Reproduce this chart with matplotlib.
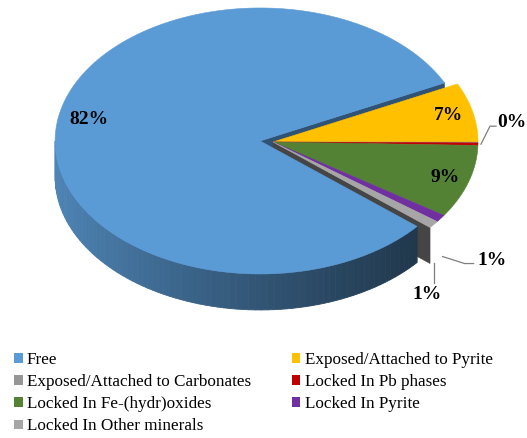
import numpy as np
import matplotlib.pyplot as plt
from matplotlib.patches import Polygon, Patch

plt.rcParams['font.family'] = ['Liberation Serif', 'DejaVu Serif']

# mineral association shares (%)
categories = ['Free', 'Exposed/Attached to Pyrite', 'Exposed/Attached to Carbonates',
              'Locked In Pb phases', 'Locked In Fe-(hydr)oxides', 'Locked In Pyrite',
              'Locked In Other minerals']
shares = [81.7, 7.2, 0.1, 0.3, 8.9, 0.9, 0.9]
colors = ['#5B9BD5', '#FFC000', '#969696', '#C00000', '#548235', '#7030A0', '#A6A6A6']

# pie geometry in pixel units
cx, cy = 273, 142
rx, ry = 205, 133
depth = 36
start = -40.0
explode = 13

fig = plt.figure(figsize=(5.27, 4.38), dpi=100)
ax = fig.add_axes([0, 0, 1, 1])
ax.set_xlim(0, 527)
ax.set_ylim(438, 0)
ax.axis('off')

vals = np.array(shares)
ends = start - np.cumsum(vals) * 3.6
begins = np.concatenate([[start], ends[:-1]])


def rim(ox, oy, t, dz=0.0):
    t = np.radians(t)
    return ox + rx * np.cos(t), oy - ry * np.sin(t) + dz


def shade(c, f):
    c = np.array(plt.matplotlib.colors.to_rgb(c))
    return tuple(c * f)


def wedge_top(i, ox, oy):
    ts = np.linspace(begins[i], ends[i], 200)
    xs, ys = rim(ox, oy, ts)
    pts = np.column_stack([np.r_[ox, xs], np.r_[oy, ys]])
    ax.add_patch(Polygon(pts, closed=True, fc=colors[i], ec=colors[i], lw=0.4))


def wedge_side(i, ox, oy, fshade):
    # visible front part of the outer wall: sin(t) < 0
    hi, lo = begins[i], ends[i]
    t0, t1 = max(lo, -180), min(hi, 0)
    if t1 <= t0:
        return
    ts = np.linspace(t1, t0, 80)
    for a, b in zip(ts[:-1], ts[1:]):
        x1, y1 = rim(ox, oy, a)
        x2, y2 = rim(ox, oy, b)
        pts = [(x1, y1), (x2, y2), (x2, y2 + depth), (x1, y1 + depth)]
        c = shade(colors[i], fshade(x1))
        ax.add_patch(Polygon(pts, closed=True, fc=c, ec=c, lw=0.6))


def cut_face(ox, oy, t, c):
    x, y = rim(ox, oy, t)
    pts = [(ox, oy), (x, y), (x, y + depth), (ox, oy + depth)]
    ax.add_patch(Polygon(pts, closed=True, fc=c, ec=c, lw=0.4))


# Free slice pulled out along its bisector
mid0 = np.radians((begins[0] + ends[0]) / 2)
fx = cx + explode * np.cos(mid0)
fy = cy - explode * np.sin(mid0) * ry / rx

cut_face(fx, fy, ends[0], '#2F5275')
cut_face(cx, cy, ends[-1], '#454545')

xl, xr = fx - rx, rim(fx, fy, begins[0])[0]
wedge_side(0, fx, fy, lambda x: 0.86 - 0.5 * ((x - xl) / (xr - xl)) ** 0.85)
wedge_top(0, fx, fy)

for i in range(1, len(vals)):
    wedge_side(i, cx, cy, lambda x: 0.42)
for i in range(1, len(vals)):
    wedge_top(i, cx, cy)

labels = ['%.0f%%' % v for v in vals]
lab_kw = dict(fontsize=14, fontweight='bold', color='black')

# labels inside the top face
for i, r, dy in [(0, 0.84, -8), (1, 0.88, 0), (4, 0.88, 0)]:
    ox, oy = (fx, fy) if i == 0 else (cx, cy)
    m = (begins[i] + ends[i]) / 2
    x = ox + r * rx * np.cos(np.radians(m))
    y = oy - r * ry * np.sin(np.radians(m)) + dy
    ax.text(x, y, labels[i], ha='center', va='center', **lab_kw)

# labels with leader lines
lead = dict(color='#7F7F7F', lw=0.9)
x0, y0 = rim(cx, cy, (begins[3] + ends[3]) / 2)
ax.plot([x0 + 3, x0 + 12, x0 + 18], [y0, y0 - 18, y0 - 18], **lead)
ax.text(x0 + 19, y0 - 22, labels[3], ha='left', va='center', **lab_kw)

x0, y0 = rim(cx, cy, (begins[5] + ends[5]) / 2, depth)
ax.plot([x0 + 2, x0 + 24, x0 + 33], [y0 + 2, y0 + 9, y0 + 9], **lead)
ax.text(x0 + 37, y0 + 6, labels[5], ha='left', va='center', **lab_kw)

x0, y0 = rim(cx, cy, (begins[6] + ends[6]) / 2, depth)
ax.plot([x0, x0], [y0 + 2, y0 + 22], **lead)
ax.text(x0 - 7, y0 + 34, labels[6], ha='center', va='center', **lab_kw)

# legend laid out row by row in two columns
order = [0, 2, 4, 6, 1, 3, 5]
handles = [Patch(fc=colors[i], ec='none') for i in order]
ax.legend(handles, [categories[i] for i in order], ncol=2, frameon=False,
          loc='upper left', bbox_to_anchor=(14, 352), bbox_transform=ax.transData,
          prop={'family': 'Liberation Serif', 'size': 12.3},
          handlelength=0.5, handleheight=0.5, handletextpad=0.25,
          labelspacing=0.36, columnspacing=2.4, borderpad=0, borderaxespad=0)

fig.savefig('out.png', dpi=100)
